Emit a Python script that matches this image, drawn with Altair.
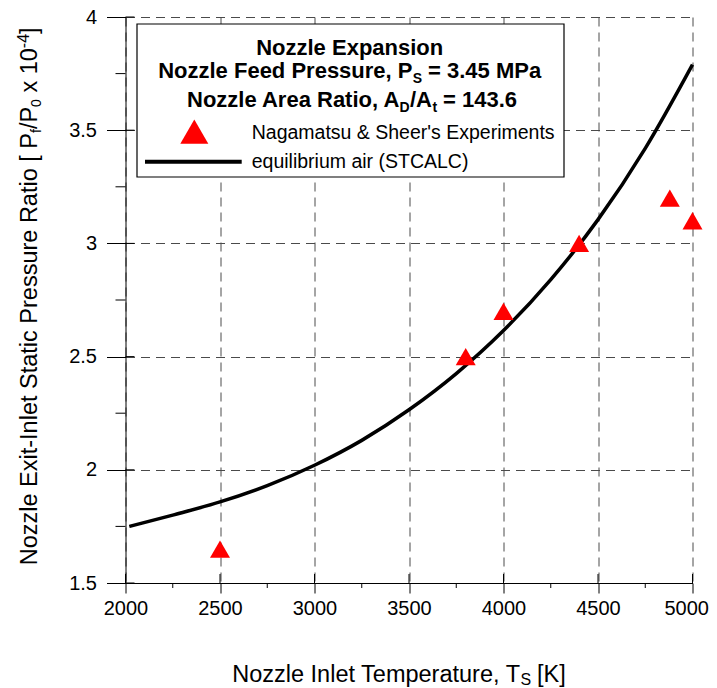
import altair as alt
import pandas as pd

# ---- data ----
curve_T = [2020, 2250, 2500, 2750, 3000, 3250, 3500, 3750, 4000, 4250, 4500, 4750, 5000]
curve_R = [1.75, 1.80, 1.858, 1.93, 2.02, 2.13, 2.265, 2.425, 2.615, 2.84, 3.105, 3.42, 3.79]
exp_T = [2500, 3800, 4000, 4400, 4880, 5000]
exp_R = [1.65, 2.50, 2.70, 3.00, 3.20, 3.10]
x_major = [2000, 2500, 3000, 3500, 4000, 4500, 5000]
x_minor = [2250, 2750, 3250, 3750, 4250, 4750]
y_major = [1.5, 2.0, 2.5, 3.0, 3.5, 4.0]
y_minor = [1.75, 2.25, 2.75, 3.25, 3.75]

FONT = "Liberation Sans"
W, H = 567, 566
OX, OY = 125.5, 17.0


def px(x):
    return x - OX


def py(y):
    return y - OY


one = pd.DataFrame({"k": [0]})

xscale = alt.Scale(domain=[2000, 5000], nice=False, zero=False)
yscale = alt.Scale(domain=[1.5, 4.0], nice=False, zero=False)

common_axis = dict(
    title=None, tickWidth=1, tickColor="black",
    domainColor="black", domainWidth=1, labelFont=FONT, labelFontSize=20,
    labelColor="black", labelFlush=False, labelOverlap=False, labelBound=False,
    grid=True, gridDash=[9, 6], gridColor="#4a4a4a", gridWidth=1,
)
xaxis = alt.Axis(
    values=x_major, format="d", tickSize=10, labelPadding=5,
    labelAlign={"condition": {"test": "datum.value == 5000", "value": "right"}, "value": "center"},
    labelOffset={"condition": {"test": "datum.value == 5000", "value": 16}, "value": 0},
    **common_axis,
)
yaxis = alt.Axis(values=y_major, format="~g", tickSize=19, labelPadding=10, **common_axis)

X = alt.X("T:Q", scale=xscale, axis=xaxis)
Y = alt.Y("R:Q", scale=yscale, axis=yaxis)

curve_df = pd.DataFrame({"T": curve_T, "R": curve_R})
exp_df = pd.DataFrame({"T": exp_T, "R": exp_R})

line = alt.Chart(curve_df).mark_line(
    color="black", strokeWidth=3.5, interpolate="monotone"
).encode(x=X, y=Y)

pts = alt.Chart(exp_df).mark_point(
    shape="triangle-up", filled=True, color="#ff0000", opacity=1, size=400
).encode(x=X, y=Y)

xminor = alt.Chart(pd.DataFrame({"T": x_minor})).mark_rule(color="black", strokeWidth=1).encode(
    x=X, y=alt.value(H), y2=alt.value(H + 5))
xinner = alt.Chart(pd.DataFrame({"T": x_major})).mark_rule(color="black", strokeWidth=1).encode(
    x=X, y=alt.value(H - 9), y2=alt.value(H))
yminor = alt.Chart(pd.DataFrame({"R": y_minor})).mark_rule(color="black", strokeWidth=1).encode(
    y=Y, x=alt.value(-10), x2=alt.value(0))
yinner = alt.Chart(pd.DataFrame({"R": y_major})).mark_rule(color="black", strokeWidth=1).encode(
    y=Y, x=alt.value(0), x2=alt.value(9))


def txt(s, x, y, size, weight="normal", align="left", angle=0):
    kw = dict(text=s, font=FONT, fontSize=size, fontWeight=weight, align=align,
              baseline="alphabetic", color="black")
    if angle:
        kw["angle"] = angle
    return alt.Chart(one).mark_text(**kw).encode(x=alt.value(px(x)), y=alt.value(py(y)))


legend_box = alt.Chart(one).mark_rect(fill="white", stroke="black", strokeWidth=1.2).encode(
    x=alt.value(px(137)), x2=alt.value(px(564)), y=alt.value(py(24)), y2=alt.value(py(177)))

legend_tri = alt.Chart(one).mark_point(
    shape="triangle-up", filled=True, color="#ff0000", opacity=1, size=784
).encode(x=alt.value(px(194.3)), y=alt.value(py(131.7)))

legend_line = alt.Chart(one).mark_rule(color="black", strokeWidth=4).encode(
    x=alt.value(px(145)), x2=alt.value(px(241.7)), y=alt.value(py(161.7)))

TB = 22     # legend title size (bold)
SB = 14     # subscript size
TA = 23.5   # axis title size
texts = [
    # legend box title lines
    txt("Nozzle Expansion", 349.7, 55, TB, "bold", "center"),
    txt("Nozzle Feed Pressure, P", 412.5, 78.3, TB, "bold", "right"),
    txt("S", 412.8, 82.5, SB, "bold"),
    txt("= 3.45 MPa", 428, 78.3, TB, "bold"),
    txt("Nozzle Area Ratio, A", 399.3, 107.3, TB, "bold", "right"),
    txt("D", 399.5, 111.5, SB, "bold"),
    txt("/A", 410, 107.3, TB, "bold"),
    txt("t", 432.5, 111.5, SB, "bold"),
    txt("= 143.6", 443, 107.3, TB, "bold"),
    # legend entries
    txt("Nagamatsu & Sheer's Experiments", 251.7, 139, 19.5),
    txt("equilibrium air (STCALC)", 251.7, 168.3, 19.5),
    # x title
    txt("Nozzle Inlet Temperature, T", 520, 681.5, TA, align="right"),
    txt("S", 520.5, 684.5, 16),
    txt("[K]", 537, 681.5, TA),
    # y title (rotated, reading bottom to top)
    txt("Nozzle Exit-Inlet Static Pressure Ratio [ P", 37, 133, TA, align="right", angle=270),
    txt("f", 41, 133, SB, angle=270),
    txt("/P", 37, 129.1, TA, angle=270),
    txt("0", 41, 106.9, SB, angle=270),
    txt("x 10", 37, 92.6, TA, angle=270),
    txt("-4", 29, 48.2, 16, angle=270),
    txt("]", 37, 34, TA, angle=270),
]

chart = alt.layer(
    line, pts, xminor, xinner, yminor, yinner,
    legend_box, legend_tri, legend_line, *texts
).properties(
    width=W, height=H,
    padding={"left": 117.5, "top": 9, "right": 16, "bottom": 104},
    autosize=alt.AutoSizeParams(type="none"),
).configure_view(stroke=None)

chart.save("out.html", embed_options={"renderer": "svg", "actions": False})
